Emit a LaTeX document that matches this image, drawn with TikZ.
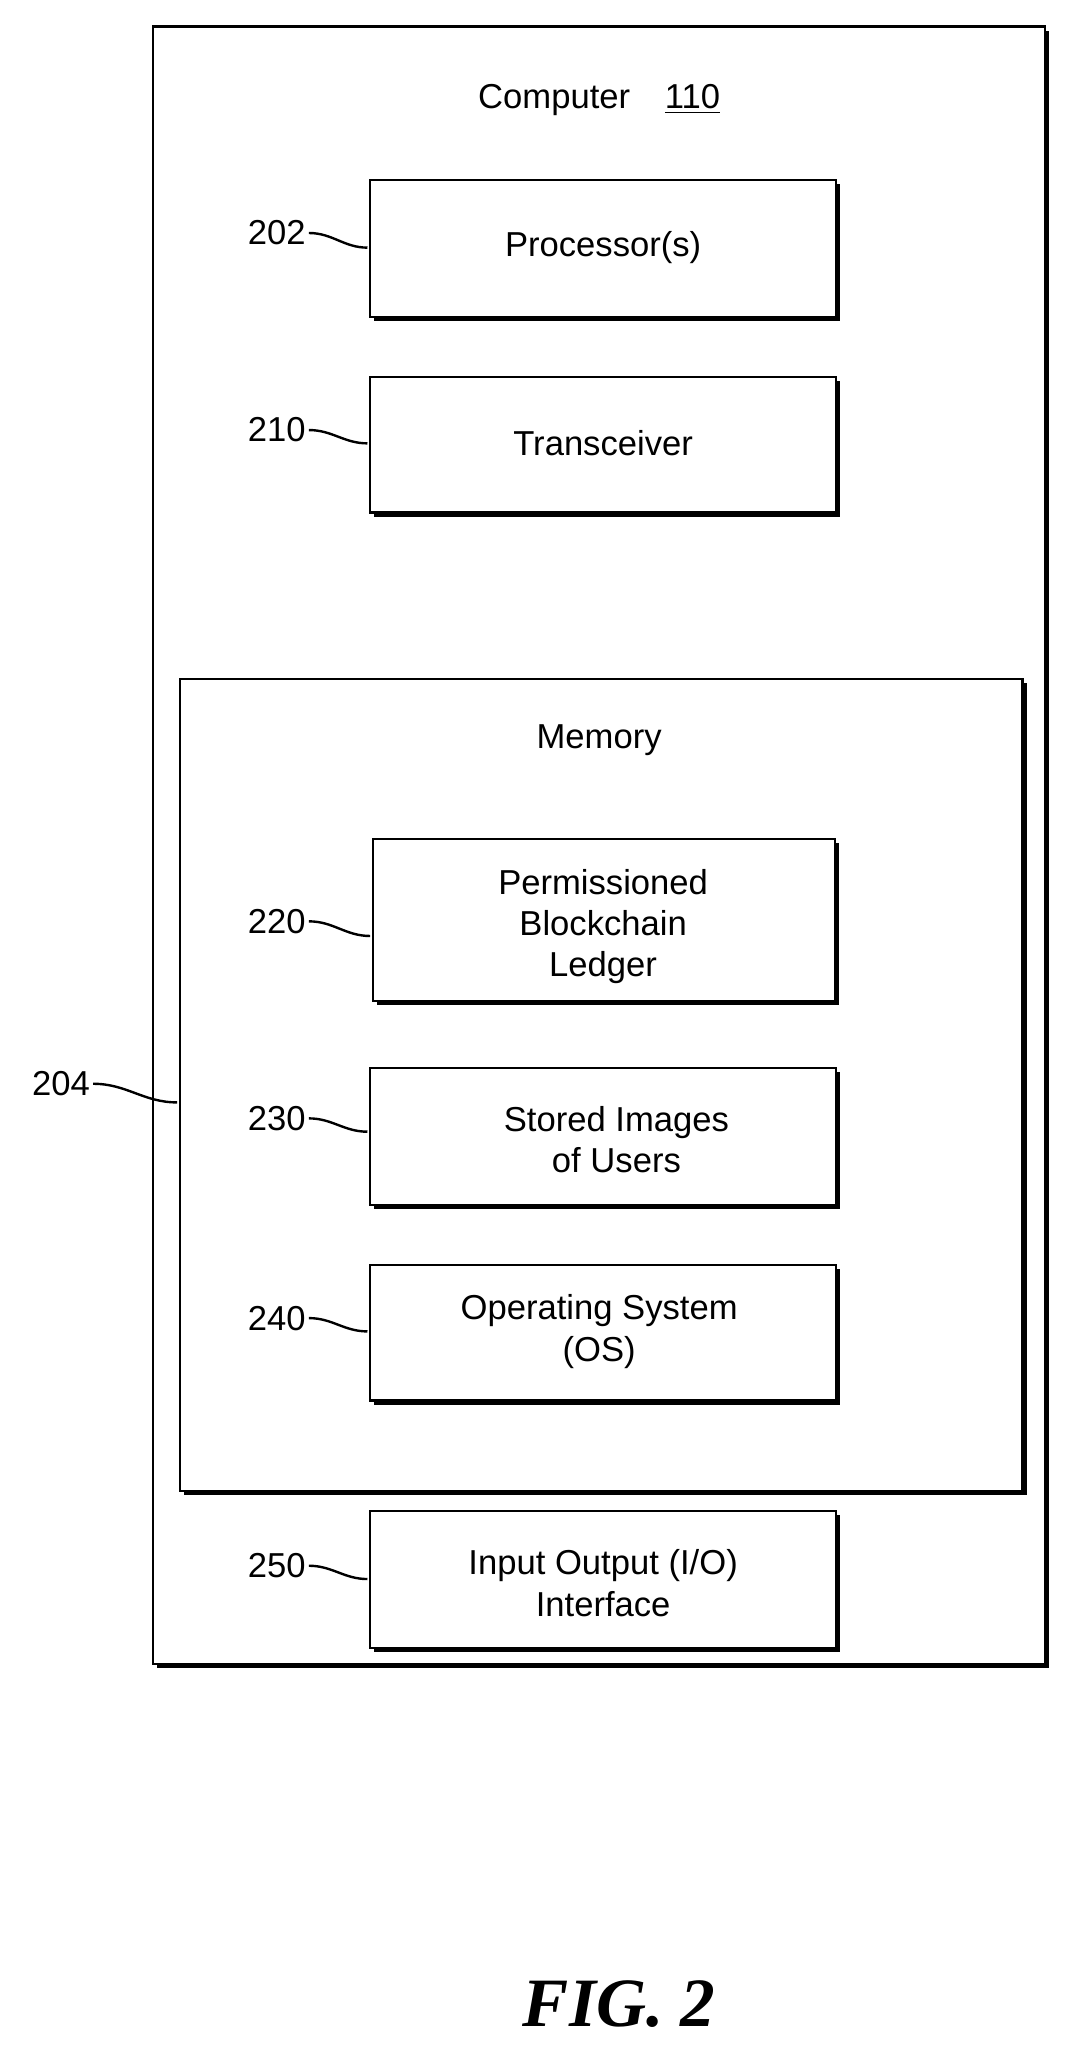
\documentclass[tikz,border=0pt]{standalone}
\usepackage{fontspec}
\setmainfont{Liberation Sans}
\newfontfamily\figfont{Liberation Serif}
\usetikzlibrary{shadows}
\begin{document}
\begin{tikzpicture}[x=0.5pt,y=-0.5pt,
  box/.style={draw,line width=0.9pt,fill=white,drop shadow={opacity=1,fill=black,shadow xshift=1.5pt,shadow yshift=-1.5pt}},
  txt/.style={font=\fontsize{13}{15.5}\selectfont,align=center},
  lbl/.style={font=\fontsize{13}{15}\selectfont,inner sep=1pt},
  sq/.style={line width=0.9pt}]
\useasboundingbox (0,0) rectangle (800,1548);
\draw[box] (115,20) rectangle (785,1250);
\node[txt] (title) at (450,75) {Computer\quad\underline{110}};
\draw[box] (278,135) rectangle (628,238);
\node[txt] (p) at (453,186) {Processor(s)};
\draw[box] (278,283) rectangle (628,385);
\node[txt] (t) at (453,333) {Transceiver};
\draw[box] (135,510) rectangle (768,1120);
\node[txt] (m) at (450,556) {Memory};
\draw[box] (280,630) rectangle (627,752);
\node[txt] (b) at (453,696) {Permissioned\\Blockchain\\Ledger};
\draw[box] (278,802) rectangle (628,905);
\node[txt] (s) at (463,856) {Stored Images\\of Users};
\draw[box] (278,950) rectangle (628,1052);
\node[txt] (o) at (450,1000) {Operating System\\(OS)};
\draw[box] (278,1135) rectangle (628,1238);
\node[txt] (io) at (453,1189) {Input Output (I/O)\\Interface};
\coordinate (e202) at (276,186);
\coordinate (e210) at (276,333);
\coordinate (e220) at (278,703);
\coordinate (e230) at (276,850);
\coordinate (e240) at (276,1000);
\coordinate (e250) at (276,1186);
\coordinate (e204) at (133,828);
\node[lbl,anchor=east] (l202) at (232,175) {202};
\node[lbl,anchor=east] (l210) at (232,323) {210};
\node[lbl,anchor=east] (l220) at (232,692) {220};
\node[lbl,anchor=east] (l230) at (232,840) {230};
\node[lbl,anchor=east] (l240) at (232,990) {240};
\node[lbl,anchor=east] (l250) at (232,1176) {250};
\node[lbl,anchor=east] (l204) at (70,814) {204};
\foreach \a/\b in {l202/e202,l210/e210,l220/e220,l230/e230,l240/e240,l250/e250,l204/e204}
  \draw[sq] (\a.east) to[out=0,in=180] (\b);
\node[font=\figfont\bfseries\itshape\fontsize{26}{30}\selectfont] (fig) at (465,1505) {FIG. 2};
\end{tikzpicture}
\end{document}
